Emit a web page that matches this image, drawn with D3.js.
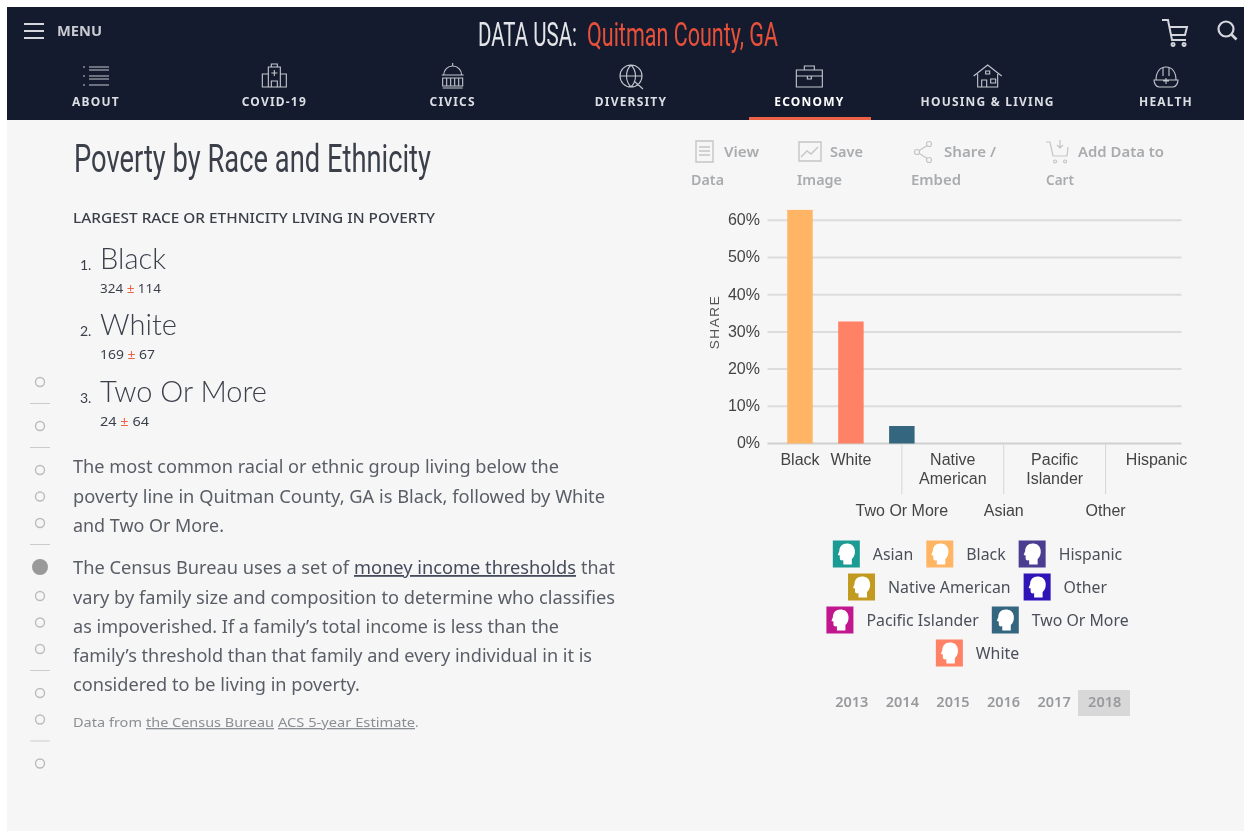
<!DOCTYPE html>
<html>
<head>
<meta charset="utf-8">
<script src="https://cdn.jsdelivr.net/npm/d3@7"></script>
<style>
html, body { margin: 0; padding: 0; background: #fff; overflow: hidden; }
svg { display: block; filter: blur(0.35px); }
</style>
</head>
<body>
<script>
// chart values
const categories = ["Black", "White", "Two Or More", "Native American", "Asian", "Pacific Islander", "Other", "Hispanic"];
const shares = [62.8, 32.8, 4.7, 0, 0, 0, 0, 0];
const yTicks = [0, 10, 20, 30, 40, 50, 60];
const legendRows = [["Asian", "Black", "Hispanic"], ["Native American", "Other"], ["Pacific Islander", "Two Or More"], ["White"]];
const raceNames = ["Asian", "Black", "Hispanic", "Native American", "Other", "Pacific Islander", "Two Or More", "White"];
const raceColors = ["#1b9b93", "#ffb563", "#4b3d8f", "#c19a1f", "#2f14b8", "#c2168f", "#35667f", "#ff8166"];
const years = ["2013", "2014", "2015", "2016", "2017", "2018"];
const navLabels = ["ABOUT", "COVID-19", "CIVICS", "DIVERSITY", "ECONOMY", "HOUSING & LIVING", "HEALTH"];
const rankNames = ["Black", "White", "Two Or More"];
const rankValues = ["324", "169", "24"];
const rankMargins = ["114", "67", "64"];
const sideGroups = [1, 1, 3, 4, 2, 1];

const width = 1244, height = 831;
const svg = d3.select("body").append("svg").attr("width", width).attr("height", height);

svg.append("rect").attr("width", width).attr("height", height).attr("fill", "#fff");
svg.append("rect").attr("x", 7).attr("y", 7).attr("width", width - 7).attr("height", height - 7).attr("fill", "#f6f6f6");

// small text helper, w squeezes the text to the width seen in the picture
function put(parent, str, x, y, size, color, o) {
  o = o || {};
  const t = parent.append("text")
    .attr("x", x).attr("y", y)
    .attr("font-family", o.font || "'Noto Sans', sans-serif")
    .attr("font-size", size)
    .attr("font-weight", o.weight || 400)
    .attr("fill", color)
    .attr("text-anchor", o.anchor || "start")
    .text(str);
  if (o.w) t.attr("textLength", o.w).attr("lengthAdjust", "spacingAndGlyphs");
  if (o.spacing) t.attr("letter-spacing", o.spacing);
  if (o.underline) t.style("text-decoration", "underline");
  return t;
}

// same idea but with a real horizontal scale, so the text box shrinks too
function putScaled(parent, str, x, y, size, color, font, w) {
  const t = parent.append("text")
    .attr("font-family", font).attr("font-size", size).attr("fill", color).text(str);
  const sx = w / t.node().getComputedTextLength();
  t.attr("transform", `translate(${x},${y}) scale(${sx},1)`);
  return t;
}

// ---- header
const nav = svg.append("g");
nav.append("rect").attr("x", 7).attr("y", 7).attr("width", width - 7).attr("height", 113).attr("fill", "#151b2f");
const navInk = "#d5d7dc";
[23, 30, 37].forEach(y => nav.append("rect").attr("x", 24).attr("y", y).attr("width", 20).attr("height", 2).attr("fill", navInk));
put(nav, "MENU", 57, 36, 14, "#c9cbd1", { weight: 700, w: 45 });
const condensed = "'Liberation Sans Narrow', Roboto, sans-serif";
putScaled(nav, "DATA USA:", 478, 45.5, 34, "#e4e5e8", condensed, 99);
putScaled(nav, "Quitman County, GA", 587, 45.5, 34, "#e8503a", condensed, 191);

const navX = d3.scalePoint().domain(navLabels).range([96, 1166]);
const navIcons = {
  "ABOUT": "M-13 -9h2M-7 -9h20M-7 -6h20M-13 0h2M-7 0h20M-7 3h20M-13 9h2M-7 9h20",
  "COVID-19": "M-6 11v-20h12v20M-6 -2h-6v13h24v-13h-6M-3 -9v-3h6v3M-3 11v-6h6v6M0 -6v6M-3 -3h6",
  "CIVICS": "M-9 -1a9 9 0 0 1 18 0M-11 -1h22M0 -10v-3M-10 12h20M-10 2h20v8h-20zM-6 2v8M-2 2v8M2 2v8M6 2v8",
  "DIVERSITY": "M-11 0a11 11 0 1 1 22 0a11 11 0 1 1 -22 0M-11 0h22M0 -11c-6 6 -6 16 0 22M0 -11c6 6 6 16 0 22M3 5l9 8",
  "ECONOMY": "M-13 -6h26v17h-26zM-5 -6v-4h10v4M-13 0h26M-2 0v3h4v-3",
  "HOUSING & LIVING": "M-14 0l14 -11l14 11M-10 -2v13h20v-13M-6 11v-7h5v7M3 3h5v4h-5zM-2 -5h4v3h-4z",
  "HEALTH": "M-10 4c0 -8 4 -13 10 -13s10 5 10 13M-12 4c0 3 2 7 5 7h14c3 0 5 -4 5 -7zM-3 -8v8M3 -8v8M0 2v6M-3 5h6"
};
navLabels.forEach(d => {
  nav.append("path").attr("transform", `translate(${navX(d)},76)`).attr("d", navIcons[d])
    .attr("fill", "none").attr("stroke", "#c4c7ce").attr("stroke-width", 1.1);
  put(nav, d, navX(d), 106, 12, d === "ECONOMY" ? "#fff" : "#dcdee3", { anchor: "middle", weight: 700, spacing: 1.2 });
});
nav.append("rect").attr("x", 749).attr("y", 117).attr("width", 122).attr("height", 3).attr("fill", "#ef6145");

// cart and search, top right
nav.append("path").attr("d", "M1162 20h6l4 20h14M1170 27h17l-2 8h-14M1173 43a1.5 1.5 0 1 0 .1 0M1184 43a1.5 1.5 0 1 0 .1 0")
  .attr("fill", "none").attr("stroke", navInk).attr("stroke-width", 2);
nav.append("circle").attr("cx", 1226).attr("cy", 29).attr("r", 7.5).attr("fill", "none").attr("stroke", navInk).attr("stroke-width", 2.2);
nav.append("path").attr("d", "M1231.5 34.5l5 5").attr("stroke", navInk).attr("stroke-width", 2.6);

// ---- left column
const left = svg.append("g");
const ink = "#3a3f4a", body = "#595d66";
put(left, "Poverty by Race and Ethnicity", 74, 172, 38, ink, { font: condensed, w: 357 });
put(left, "LARGEST RACE OR ETHNICITY LIVING IN POVERTY", 73, 223, 14, ink, { w: 362, weight: 500 });

const rankW = [66, 77, 167], valW = [61, 55, 49];
rankNames.forEach((d, i) => {
  const y = 269 + i * 66.3;
  put(left, (i + 1) + ".", 80, y + 1, 14, ink, { font: "Lato, sans-serif" });
  put(left, d, 100, y, 30, ink, { font: "Lato, sans-serif", weight: 300, w: rankW[i] });
  const v = put(left, "", 100, y + 24, 13, ink, { w: valW[i] });
  v.append("tspan").text(rankValues[i] + " ");
  v.append("tspan").attr("fill", "#ef6145").text("± ");
  v.append("tspan").text(rankMargins[i]);
});

const para = [
  ["The most common racial or ethnic group living below the", 73, 473, 486],
  ["poverty line in Quitman County, GA is Black, followed by White", 73, 503, 532],
  ["and Two Or More.", 73, 532, 151],
  ["The Census Bureau uses a set of", 73, 574, 276],
  ["vary by family size and composition to determine who classifies", 73, 604, 542],
  ["as impoverished. If a family\u2019s total income is less than the", 73, 633, 486],
  ["family\u2019s threshold than that family and every individual in it is", 73, 662, 519],
  ["considered to be living in poverty.", 73, 691, 287]
];
para.forEach(p => put(left, p[0], p[1], p[2], 18, body, { w: p[3] }));
put(left, "money income thresholds", 354, 574, 18, "#454b5c", { w: 222, underline: true });
put(left, "that", 581, 574, 18, body, { w: 34 });

const grey = "#8b8e93";
put(left, "Data from", 73, 727, 13, grey, { w: 69 });
put(left, "the Census Bureau", 146, 727, 13, grey, { w: 128, underline: true });
put(left, "ACS 5-year Estimate", 278, 727, 13, grey, { w: 137, underline: true });
put(left, ".", 415, 727, 13, grey);

// side dots
let dotY = 382, dotIndex = 0;
sideGroups.forEach((n, gi) => {
  d3.range(n).forEach(k => {
    const active = dotIndex === 5;
    left.append("circle").attr("cx", 40).attr("cy", dotY)
      .attr("r", active ? 8 : 4.5)
      .attr("fill", active ? "#999" : "none")
      .attr("stroke", active ? "#999" : "#bbb").attr("stroke-width", active ? 0 : 1.4);
    dotIndex++;
    if (k < n - 1) dotY += active ? 29 : 26.5;
  });
  if (gi < sideGroups.length - 1) {
    left.append("line").attr("x1", 30).attr("x2", 50).attr("y1", dotY + 21.5).attr("y2", dotY + 21.5)
      .attr("stroke", "#ccc").attr("stroke-width", 1);
    dotY += 44;
  }
});

// ---- toolbar
const tools = svg.append("g");
const toolInk = "#a9abae";
[["View", 724, 157, 35], ["Data", 691, 185, 33], ["Save", 830, 157, 33], ["Image", 797, 185, 45],
 ["Share /", 944, 157, 52], ["Embed", 911, 185, 50], ["Add Data to", 1078, 157, 86], ["Cart", 1046, 185, 28]]
  .forEach(d => put(tools, d[0], d[1], d[2], 14, toolInk, { weight: 600, w: d[3] }));
tools.append("path").attr("d", "M696 141h17v21h-17zM699 147h11M699 151h11M699 155h11")
  .attr("fill", "none").attr("stroke", "#c4c5c7").attr("stroke-width", 1.4);
tools.append("path").attr("d", "M799 142h22v19h-22zM801 157l6 -6l4 3l7 -7")
  .attr("fill", "none").attr("stroke", "#c4c5c7").attr("stroke-width", 1.4);
tools.append("path").attr("d", "M917 152l11 -7M917 152l11 7")
  .attr("fill", "none").attr("stroke", "#c4c5c7").attr("stroke-width", 1.2);
[[917, 152], [929, 144], [929, 160]].forEach(c => tools.append("circle").attr("cx", c[0]).attr("cy", c[1]).attr("r", 2.5)
  .attr("fill", "#f6f6f6").attr("stroke", "#c4c5c7").attr("stroke-width", 1.2));
tools.append("path").attr("d", "M1046 142h4l3 14h14l1 -9M1060 140v8M1057 145l3 3l3 -3M1055 160a1.5 1.5 0 1 0 .1 0M1065 160a1.5 1.5 0 1 0 .1 0")
  .attr("fill", "none").attr("stroke", "#c4c5c7").attr("stroke-width", 1.2);

// ---- bar chart
const chart = svg.append("g");
const chartFont = "'Liberation Sans', Arial, sans-serif";
const x = d3.scaleBand().domain(categories).range([774.5, 1182]).paddingInner(0.5).paddingOuter(0.25);
const y = d3.scaleLinear().domain([0, 60]).range([443.5, 220.3]);

const yAxis = d3.axisLeft(y).tickValues(yTicks).tickFormat(d => d + "%").tickSize(0).tickPadding(0);
const yG = chart.append("g").attr("transform", "translate(760,0)").call(yAxis);
yG.select(".domain").remove();
yG.selectAll("text").attr("dy", "0.28em").attr("font-family", chartFont).attr("font-size", 16).attr("fill", "#444");

chart.append("g").selectAll("line").data(yTicks.filter(d => d > 0)).join("line")
  .attr("x1", 767.5).attr("x2", 1181.5)
  .attr("y1", d => y(d)).attr("y2", d => y(d))
  .attr("stroke", "#dcdcdc").attr("stroke-width", 2);

const xAxis = d3.axisBottom(x).tickSize(0).tickFormat("");
const xG = chart.append("g").attr("transform", `translate(0,${y(0)})`).call(xAxis);
xG.select(".domain").remove();
chart.append("line").attr("x1", 767.5).attr("x2", 1181.5).attr("y1", y(0)).attr("y2", y(0))
  .attr("stroke", "#cfcfcf").attr("stroke-width", 2);

xG.selectAll(".tick").each(function (d, i) {
  const tick = d3.select(this);
  tick.select("text").remove();
  const low = i > 1 && i < 7 && i % 2 === 0;
  if (low) tick.append("line").attr("y1", 1).attr("y2", 50.5).attr("stroke", "#d6d6d6").attr("stroke-width", 1);
  const lines = low ? [d] : d.split(" ");
  lines.forEach((ln, k) => {
    put(tick, ln, 0, (low ? 72 : 21.5) + k * 18.5, 16, "#444", { font: chartFont, anchor: "middle" });
  });
});

const color = d3.scaleOrdinal(raceNames, raceColors);
chart.append("g").selectAll("rect").data(shares).join("rect")
  .attr("x", (d, i) => x(categories[i]))
  .attr("y", d => y(d))
  .attr("width", x.bandwidth())
  .attr("height", d => y(0) - y(d))
  .attr("fill", (d, i) => color(categories[i]));

chart.append("text")
  .attr("transform", "translate(719,322) rotate(-90)")
  .attr("text-anchor", "middle")
  .attr("font-family", chartFont).attr("font-size", 13.5).attr("letter-spacing", 1.6)
  .attr("fill", "#555").text("SHARE");

// ---- legend
const legend = svg.append("g");
const head = "M19 24v-5.500c2.500 -2 3.500 -5.500 3 -9c-.7 -4.500 -4 -6.500 -8 -6.500c-4.500 0 -7.500 3 -7.500 7.500l-1.500 4l2 .6v3c0 1.700 1.500 2 3.500 1.700v4.200z";
legendRows.forEach((row, r) => {
  const rowG = legend.append("g");
  let cursor = 0;
  row.forEach(name => {
    const item = rowG.append("g").attr("transform", `translate(${cursor},0)`);
    item.append("rect").attr("width", 27).attr("height", 27).attr("fill", color(name));
    item.append("path").attr("d", head).attr("fill", "#fff");
    const t = put(item, name, 40, 19, 16, "#4a4f5a");
    const w = t.node().getComputedTextLength() * 0.99;
    t.attr("textLength", w).attr("lengthAdjust", "spacingAndGlyphs");
    cursor += 40 + w + 13;
  });
  const rowWidth = cursor - 13;
  rowG.attr("transform", `translate(${977.5 - rowWidth / 2},${540.5 + r * 33})`);
});

// ---- year picker
const yearG = svg.append("g");
const yearX = d3.scaleBand().domain(years).range([826.5, 1130]);
yearG.append("rect").attr("x", 1078).attr("y", 690).attr("width", 52).attr("height", 26).attr("fill", "#d8d8d8");
yearG.selectAll("text").data(years).join("text")
  .attr("x", d => yearX(d) + yearX.bandwidth() / 2)
  .attr("y", 707)
  .attr("text-anchor", "middle")
  .attr("font-family", "'Noto Sans', sans-serif")
  .attr("font-weight", 600).attr("font-size", 14.5)
  .attr("fill", "#98999c")
  .text(d => d);
</script>
</body>
</html>
